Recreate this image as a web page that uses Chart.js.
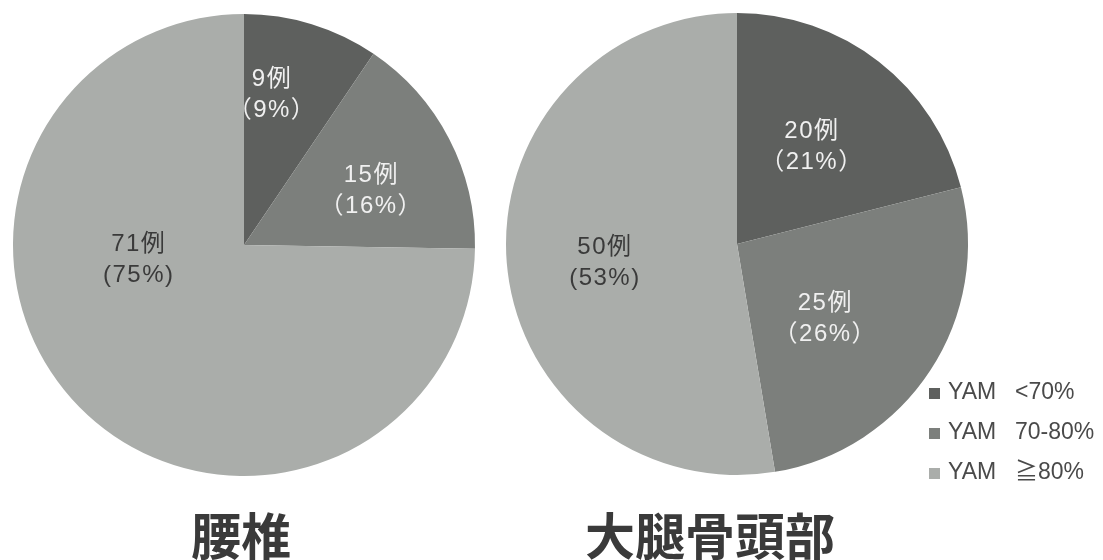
<!DOCTYPE html>
<html>
<head>
<meta charset="utf-8">
<script src="https://cdn.jsdelivr.net/npm/chart.js@4.4.1/dist/chart.umd.min.js"></script>
<style>
  body { margin: 0; background: #fff; width: 1103px; height: 560px; position: relative; overflow: hidden; }
  canvas { position: absolute; top: 0; }
  #lumbar { left: 0; }
  #femur { left: 490px; }
  .caption {
    position: absolute; top: 506px; transform: translateX(-50%);
    font: 700 50px "Noto Sans CJK JP", sans-serif; line-height: 54px; color: #3a3a3a;
    white-space: nowrap;
  }
</style>
</head>
<body>
<canvas id="lumbar" width="490" height="560"></canvas>
<canvas id="femur" width="613" height="560"></canvas>
<div class="caption" id="cap0" style="left:241px"></div>
<div class="caption" id="cap1" style="left:710px"></div>
<script>
const categories = ['YAM <70%', 'YAM 70-80%', 'YAM ≧80%'];
const lumbarCases = [9, 15, 71];
const lumbarPercents = [9, 16, 75];
const femurCases = [20, 25, 50];
const femurPercents = [21, 26, 53];
const chartTitles = ['腰椎', '大腿骨頭部'];

const sliceColors = ['#5e605e', '#7c7f7c', '#aaadaa'];
const labelColors = ['#f0f0f0', '#f0f0f0', '#3a3a3a'];
const labelFont = '24px "Liberation Sans", "Noto Sans CJK JP", sans-serif';

// where each slice label sits: [degrees clockwise from 12 o'clock, fraction of radius]
const lumbarSpots = [[10.5, 0.665], [66.7, 0.60], [262, 0.46]];
const femurSpots = [[37.4, 0.534], [130.1, 0.50], [262.2, 0.577]];

document.getElementById('cap0').textContent = chartTitles[0];
document.getElementById('cap1').textContent = chartTitles[1];

// "n例" over "(p%)"; dark slices use full-width brackets
const sliceLabels = {
  id: 'sliceLabels',
  afterDatasetsDraw(chart, args, opts) {
    const ctx = chart.ctx;
    const data = chart.data.datasets[0].data;
    chart.getDatasetMeta(0).data.forEach((arc, i) => {
      const { x, y, outerRadius } = arc.getProps(['x', 'y', 'outerRadius'], true);
      const [deg, frac] = opts.spots[i];
      const a = (deg - 90) * Math.PI / 180;
      const cx = x + Math.cos(a) * outerRadius * frac;
      const cy = y + Math.sin(a) * outerRadius * frac;
      const pct = i === 2 ? '(' + opts.percents[i] + '%)' : '（' + opts.percents[i] + '%）';
      ctx.save();
      ctx.font = labelFont;
      ctx.letterSpacing = '1.5px';
      ctx.fillStyle = labelColors[i];
      ctx.textAlign = 'center';
      ctx.textBaseline = 'middle';
      ctx.fillText(data[i] + '例', cx, cy - 15);
      ctx.fillText(pct, cx, cy + 16);
      ctx.restore();
    });
  }
};

// shared legend, drawn in the lower right of the femur chart
const cornerLegend = {
  id: 'cornerLegend',
  afterDraw(chart, args, opts) {
    if (!opts.show) return;
    const ctx = chart.ctx;
    const colors = chart.data.datasets[0].backgroundColor;
    ctx.save();
    ctx.font = '23px "Liberation Sans", "Noto Sans CJK JP", sans-serif';
    ctx.textBaseline = 'middle';
    chart.data.labels.forEach((label, i) => {
      const ry = opts.y + i * opts.gap;
      const cut = label.indexOf(' ');
      ctx.fillStyle = colors[i];
      ctx.fillRect(opts.x, ry - 5, 11, 11);
      ctx.fillStyle = '#4a4a4a';
      ctx.fillText(label.slice(0, cut), opts.x + 19, ry);
      ctx.fillText(label.slice(cut + 1), opts.x + 86, ry);
    });
    ctx.restore();
  }
};

function makePie(id, cases, percents, spots, padding, legend) {
  return new Chart(document.getElementById(id), {
    type: 'pie',
    data: {
      labels: categories,
      datasets: [{
        data: cases,
        backgroundColor: sliceColors,
        borderWidth: 0,
        hoverOffset: 0
      }]
    },
    options: {
      responsive: false,
      animation: false,
      layout: { padding: padding },
      plugins: {
        legend: { display: false },
        tooltip: { enabled: false },
        sliceLabels: { spots: spots, percents: percents },
        cornerLegend: legend
      }
    },
    plugins: [sliceLabels, cornerLegend]
  });
}

makePie('lumbar', lumbarCases, lumbarPercents, lumbarSpots,
  { top: 14, bottom: 84, left: 13, right: 15 }, { show: false });
makePie('femur', femurCases, femurPercents, femurSpots,
  { top: 13, bottom: 85, left: 16, right: 135 }, { show: true, x: 439, y: 393, gap: 40 });
</script>
</body>
</html>
